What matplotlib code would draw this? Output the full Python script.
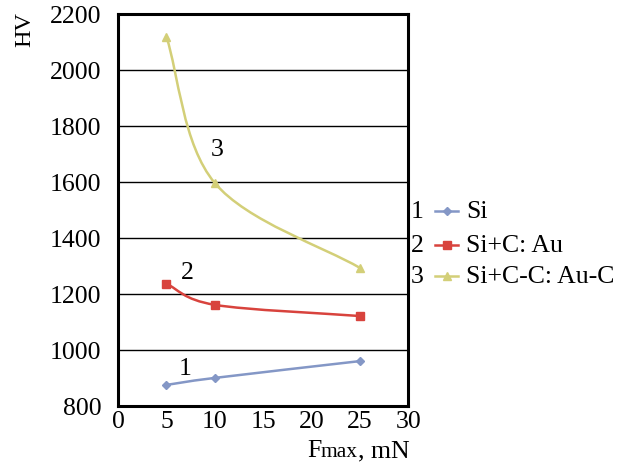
import numpy as np
import matplotlib
matplotlib.use("Agg")
from matplotlib import pyplot as plt
from matplotlib.path import Path
from matplotlib.patches import PathPatch

# data
f_max = [5, 10, 25]
hv_si = [875, 900, 960]
hv_si_c_au = [1236, 1161, 1121]
hv_si_cc_auc = [2118, 1596, 1293]

labels = ["Si", "Si+C: Au", "Si+C-C: Au-C"]
colors = ["#8497c6", "#d8433d", "#d3cf78"]
markers = ["D", "s", "^"]
msizes = [4, 6, 6]

plt.rcParams['font.family'] = ['Liberation Serif', 'DejaVu Serif']
FS = 18.5


def smooth_path(x, y):
    # Excel-like smoothed line drawn as cubic Bezier segments
    pts = np.column_stack([x, y]).astype(float)
    n = len(pts)
    tang = []
    for i in range(n):
        if i == 0:
            tang.append((pts[1] - pts[0]) * 1.5)
        elif i == n - 1:
            tang.append((pts[-1] - pts[-2]) * 1.5)
        else:
            tang.append(pts[i + 1] - pts[i - 1])
    verts = [pts[0]]
    codes = [Path.MOVETO]
    for i in range(n - 1):
        verts += [pts[i] + tang[i] / 6, pts[i + 1] - tang[i + 1] / 6, pts[i + 1]]
        codes += [Path.CURVE4] * 3
    return Path(verts, codes)


fig = plt.figure(figsize=(6.28, 4.64), dpi=100)
ax = fig.add_axes([0.188, 0.123, 0.462, 0.845])

series = [hv_si, hv_si_c_au, hv_si_cc_auc]
for vals, c, m, ms in zip(series, colors, markers, msizes):
    ax.add_patch(PathPatch(smooth_path(f_max, vals), fill=False, edgecolor=c, lw=1.8, zorder=3))
    ax.plot(f_max, vals, ls="none", marker=m, color=c, ms=ms, zorder=4)

ax.set_xlim(0, 30)
ax.set_ylim(800, 2200)
ax.set_xticks(range(0, 31, 5))
ax.set_yticks(range(800, 2201, 200))
ax.tick_params(length=0, labelsize=FS)
ax.tick_params(axis="y", pad=12)
ax.tick_params(axis="x", pad=3)
ax.grid(axis="y", color="black", lw=1)
ax.set_axisbelow(True)
for s in ax.spines.values():
    s.set_linewidth(2.2)

# curve numbers
ax.text(10.2, 1718, "3", fontsize=FS, ha="center", va="center")
ax.text(7.2, 1279, "2", fontsize=FS, ha="center", va="center")
ax.text(6.9, 936, "1", fontsize=FS, ha="center", va="center")

# axis labels
fig.text(0.040, 0.937, "HV", rotation=90, fontsize=17.5, ha="center", va="center")
fig.text(0.489, 0.015, "F", fontsize=FS, ha="left", va="baseline")
fig.text(0.5096, 0.015, "max", fontsize=15.5, ha="left", va="baseline")
fig.text(0.570, 0.015, ", mN", fontsize=FS, ha="left", va="baseline")

# legend outside right
leg_y = [1 - 212 / 464, 1 - 246 / 464, 1 - 277 / 464]
for i, (lab, c, m, ms, y) in enumerate(zip(labels, colors, markers, msizes, leg_y)):
    fig.text(411 / 628, y, str(i + 1), fontsize=FS, ha="left", va="center")
    fig.add_artist(plt.Line2D([435 / 628, 458 / 628], [y, y], color=c, lw=1.8,
                              transform=fig.transFigure))
    fig.add_artist(plt.Line2D([446.5 / 628], [y], color=c, marker=m, ms=ms, ls="none",
                              transform=fig.transFigure))
    fig.text(466 / 628, y, lab, fontsize=FS, ha="left", va="center")

fig.savefig("out.png", dpi=100)
